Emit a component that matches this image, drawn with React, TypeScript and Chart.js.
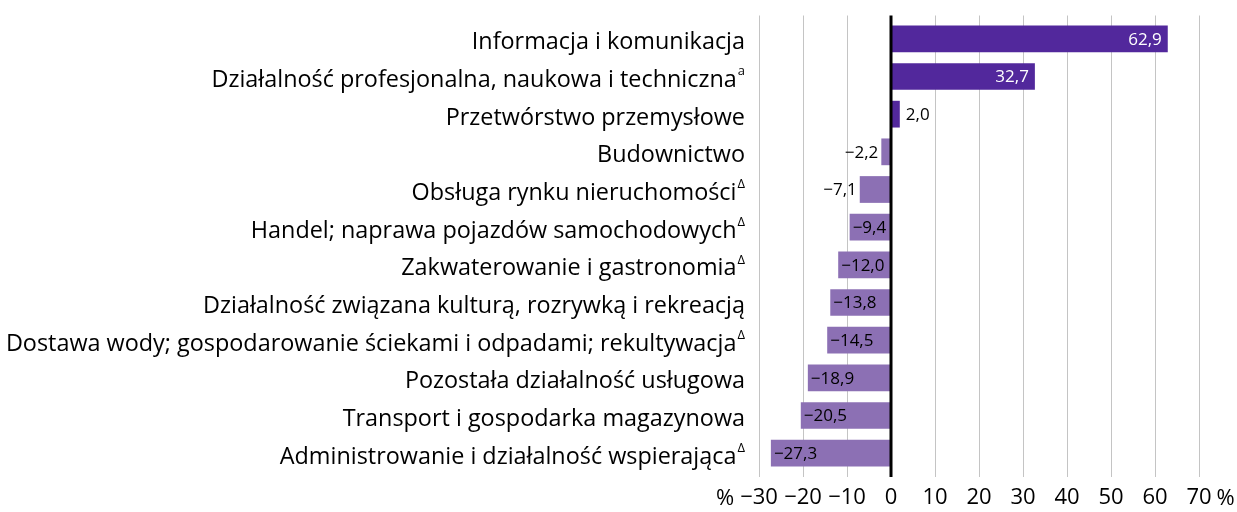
import React, { useEffect, useRef } from "react";
import { Chart, registerables } from "chart.js";

Chart.register(...registerables);

const categories = [
  "Informacja i komunikacja",
  "Działalność profesjonalna, naukowa i techniczna",
  "Przetwórstwo przemysłowe",
  "Budownictwo",
  "Obsługa rynku nieruchomości",
  "Handel; naprawa pojazdów samochodowych",
  "Zakwaterowanie i gastronomia",
  "Działalność związana kulturą, rozrywką i rekreacją",
  "Dostawa wody; gospodarowanie ściekami i odpadami; rekultywacja",
  "Pozostała działalność usługowa",
  "Transport i gospodarka magazynowa",
  "Administrowanie i działalność wspierająca",
];
const notes = ["", "a", "", "", "Δ", "Δ", "Δ", "", "Δ", "", "", "Δ"];
const values = [62.9, 32.7, 2.0, -2.2, -7.1, -9.4, -12.0, -13.8, -14.5, -18.9, -20.5, -27.3];
const xMin = -30;
const xMax = 70;
const xStep = 10;
const unitLabel = "%";

const FONT = "'Open Sans', 'Noto Sans', sans-serif";
const POS_COLOR = "#52289c";
const NEG_COLOR = "#8c70b4";

const fmt = (v: number) => (v < 0 ? "−" : "") + Math.abs(v).toFixed(1).replace(".", ",");
const fmtTick = (v: number) => (v < 0 ? "−" : "") + Math.abs(v);

const decorPlugin = {
  id: "decor",
  beforeDatasetsDraw(chart: any) {
    const { ctx, chartArea, scales } = chart;
    const x = scales.x;
    ctx.save();
    ctx.strokeStyle = "#c4c4c4";
    ctx.lineWidth = 1;
    for (let v = xMin; v <= xMax; v += xStep) {
      if (v === 0) continue;
      const px = Math.round(x.getPixelForValue(v)) + 0.5;
      ctx.beginPath();
      ctx.moveTo(px, chartArea.top - 4.5);
      ctx.lineTo(px, chartArea.bottom + 5);
      ctx.stroke();
    }
    ctx.restore();
  },
  afterDatasetsDraw(chart: any) {
    const { ctx, chartArea, scales } = chart;
    const x = scales.x;
    const y = scales.y;
    ctx.save();
    // zero line
    ctx.strokeStyle = "#000";
    ctx.lineWidth = 3;
    const zx = x.getPixelForValue(0);
    ctx.beginPath();
    ctx.moveTo(zx, chartArea.top - 4.5);
    ctx.lineTo(zx, chartArea.bottom + 5);
    ctx.stroke();

    // value labels
    const meta = chart.getDatasetMeta(0);
    ctx.font = `17px ${FONT}`;
    ctx.textBaseline = "middle";
    meta.data.forEach((bar: any, i: number) => {
      const v = values[i];
      const txt = fmt(v);
      const w = ctx.measureText(txt).width;
      const barLen = Math.abs(bar.x - bar.base);
      const inside = barLen > w + 4;
      if (v >= 0) {
        if (inside) {
          ctx.fillStyle = "#fff";
          ctx.textAlign = "right";
          ctx.fillText(txt, bar.x - 6, bar.y + 1);
        } else {
          ctx.fillStyle = "#000";
          ctx.textAlign = "left";
          ctx.fillText(txt, bar.x + 6, bar.y + 1);
        }
      } else {
        ctx.fillStyle = "#000";
        if (inside) {
          ctx.textAlign = "left";
          ctx.fillText(txt, bar.x + 3, bar.y + 1);
        } else {
          ctx.textAlign = "right";
          ctx.fillText(txt, bar.x - 3, bar.y + 1);
        }
      }
    });

    // category labels
    const rightEdge = 745;
    categories.forEach((c, i) => {
      const py = y.getPixelForValue(i);
      let end = rightEdge;
      if (notes[i]) {
        ctx.font = `13px ${FONT}`;
        const sw = ctx.measureText(notes[i]).width;
        ctx.fillStyle = "#000";
        ctx.textAlign = "left";
        ctx.textBaseline = "middle";
        ctx.fillText(notes[i], rightEdge - sw, py - 5);
        end = rightEdge - sw - 1;
      }
      ctx.font = `23.4px ${FONT}`;
      ctx.fillStyle = "#000";
      ctx.textAlign = "right";
      ctx.textBaseline = "middle";
      ctx.fillText(c, end, py + 4);
    });

    // unit labels on x axis
    ctx.font = `22px ${FONT}`;
    ctx.fillStyle = "#000";
    ctx.textBaseline = "middle";
    const ly = 499;
    const lw = ctx.measureText(fmtTick(xMin)).width;
    ctx.textAlign = "right";
    ctx.fillText(unitLabel, x.getPixelForValue(xMin) - lw / 2 - 6, ly);
    const rw = ctx.measureText(fmtTick(xMax)).width;
    ctx.textAlign = "left";
    ctx.fillText(unitLabel, x.getPixelForValue(xMax) + rw / 2 + 5, ly);
    ctx.restore();
  },
};

export default function App() {
  const ref = useRef<HTMLCanvasElement>(null);
  useEffect(() => {
    if (!ref.current) return;
    const chart = new Chart(ref.current, {
      type: "bar",
      data: {
        labels: categories,
        datasets: [
          {
            data: values,
            backgroundColor: values.map((v) => (v >= 0 ? POS_COLOR : NEG_COLOR)),
            borderWidth: 0,
            barPercentage: 0.71,
            categoryPercentage: 1,
          },
        ],
      },
      options: {
        indexAxis: "y",
        animation: false,
        responsive: true,
        maintainAspectRatio: false,
        layout: { padding: { left: 759, right: 38, top: 20, bottom: 0 } },
        plugins: { legend: { display: false }, tooltip: { enabled: false } },
        scales: {
          x: {
            type: "linear",
            min: xMin,
            max: xMax,
            ticks: {
              stepSize: xStep,
              color: "#000",
              font: { family: FONT, size: 22 },
              padding: 13,
              maxRotation: 0,
              callback: (v: any) => fmtTick(Number(v)),
            },
            grid: { display: false, drawTicks: false },
            border: { display: false },
            afterFit: (s: any) => {
              s.height = 40;
            },
          },
          y: {
            display: false,
            grid: { display: false },
          },
        },
      },
      plugins: [decorPlugin],
    });
    return () => chart.destroy();
  }, []);
  return (
    <div style={{ position: "absolute", left: 0, top: 0, width: 1237, height: 512 }}>
      <canvas ref={ref} />
    </div>
  );
}
